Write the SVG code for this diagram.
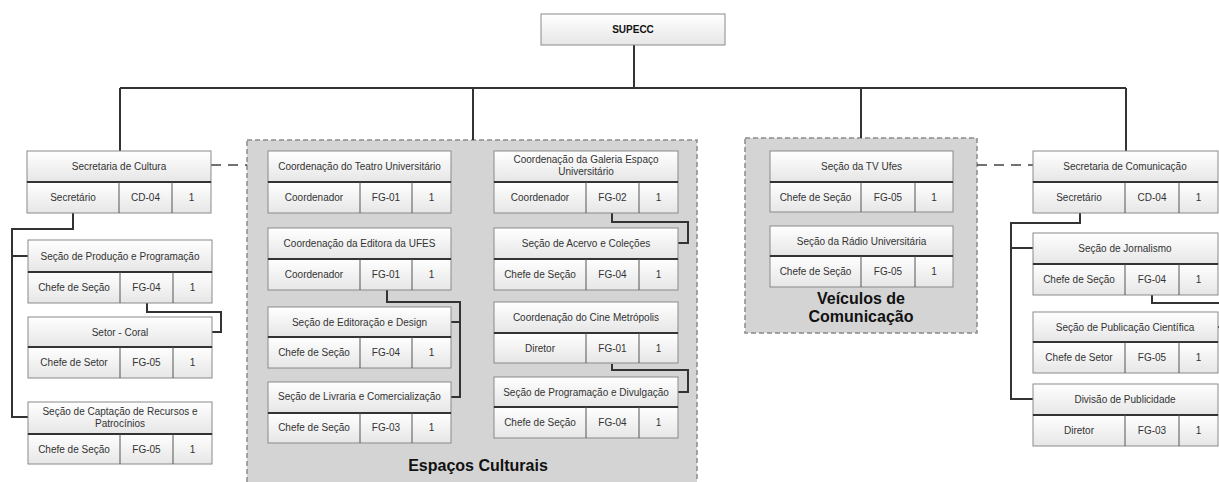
<svg xmlns="http://www.w3.org/2000/svg" width="1219" height="482" viewBox="0 0 1219 482">
<defs>
<linearGradient id="g" x1="0" y1="0" x2="0" y2="1">
<stop offset="0" stop-color="#ffffff"/>
<stop offset="1" stop-color="#e6e6e6"/>
</linearGradient>
</defs>
<style>
.h{fill:url(#g);stroke:#8a8a8a;stroke-width:1}
.c{fill:url(#g);stroke:#8a8a8a;stroke-width:1}
.dv{stroke:#333;stroke-width:2}
.cv{stroke:#555;stroke-width:1}
text{font-family:"Liberation Sans",Arial,sans-serif;font-size:10px;fill:#333;text-anchor:middle}
.b{font-weight:bold;fill:#111}
.grp{fill:#d4d4d4;stroke:#8a8a8a;stroke-width:1.5;stroke-dasharray:5 3}
.con{fill:none;stroke:#333;stroke-width:2}
.dash{fill:none;stroke:#444;stroke-width:1.5;stroke-dasharray:10 7}
.lbl{font-size:16px;font-weight:bold;fill:#111}
</style>
<rect class="grp" x="247" y="140" width="450" height="345"/>
<rect class="grp" x="745" y="138" width="232" height="195"/>
<text class="lbl" x="478" y="471">Espaços Culturais</text>
<text class="lbl" x="861" y="304">Veículos de</text>
<text class="lbl" x="861" y="322">Comunicação</text>
<g id="connectors">
<path class="con" d="M634 45V88M120 88H1126M120 88V151M473 88V140M861 88V138M1126 88V151"/>
<path class="dash" d="M211 165H247M977 165H1033"/>
<path class="con" d="M73 213V229H12V417H28M12 256H28"/>
<path class="con" d="M147 303V312H221V332H212"/>
<path class="con" d="M387 290V302H460V397H451M460 322H451"/>
<path class="con" d="M612 213V222H688V243H678"/>
<path class="con" d="M612 364V370H688V392H678"/>
<path class="con" d="M1080 213V223H1011V399H1033M1011 248H1033"/>
<path class="con" d="M1152 295V303H1219M1217 327H1219"/>
</g>
<g id="supecc">
<rect class="h" x="541" y="14" width="184" height="31"/>
<text class="b" x="633" y="33">SUPECC</text>
</g>
<g id="sec-cultura" transform="translate(27,151)">
<rect class="h" x="0" y="0" width="184" height="31"/><rect class="c" x="0" y="31" width="184" height="31"/>
<line class="dv" x1="0" y1="31" x2="184" y2="31"/><line class="cv" x1="92" y1="31" x2="92" y2="62"/><line class="cv" x1="145" y1="31" x2="145" y2="62"/>
<text x="92" y="19">Secretaria de Cultura</text><text x="46" y="50">Secretário</text><text x="118.5" y="50">CD-04</text><text x="164.5" y="50">1</text>
</g>
<g id="sec-producao" transform="translate(28,240)">
<rect class="h" x="0" y="0" width="184" height="32"/><rect class="c" x="0" y="32" width="184" height="31"/>
<line class="dv" x1="0" y1="32" x2="184" y2="32"/><line class="cv" x1="92" y1="32" x2="92" y2="63"/><line class="cv" x1="145" y1="32" x2="145" y2="63"/>
<text x="92" y="20">Seção de Produção e Programação</text><text x="46" y="51">Chefe de Seção</text><text x="118.5" y="51">FG-04</text><text x="164.5" y="51">1</text>
</g>
<g id="setor-coral" transform="translate(28,317)">
<rect class="h" x="0" y="0" width="184" height="30"/><rect class="c" x="0" y="30" width="184" height="31"/>
<line class="dv" x1="0" y1="30" x2="184" y2="30"/><line class="cv" x1="92" y1="30" x2="92" y2="61"/><line class="cv" x1="145" y1="30" x2="145" y2="61"/>
<text x="92" y="19">Setor - Coral</text><text x="46" y="49">Chefe de Setor</text><text x="118.5" y="49">FG-05</text><text x="164.5" y="49">1</text>
</g>
<g id="sec-captacao" transform="translate(28,402)">
<rect class="h" x="0" y="0" width="184" height="32"/><rect class="c" x="0" y="32" width="184" height="30"/>
<line class="dv" x1="0" y1="32" x2="184" y2="32"/><line class="cv" x1="92" y1="32" x2="92" y2="62"/><line class="cv" x1="145" y1="32" x2="145" y2="62"/>
<text x="92" y="13">Seção de Captação de Recursos e</text><text x="92" y="25">Patrocínios</text><text x="46" y="51">Chefe de Seção</text><text x="118.5" y="51">FG-05</text><text x="164.5" y="51">1</text>
</g>
<g id="coord-teatro" transform="translate(268,151)">
<rect class="h" x="0" y="0" width="183" height="31"/><rect class="c" x="0" y="31" width="183" height="31"/>
<line class="dv" x1="0" y1="31" x2="183" y2="31"/><line class="cv" x1="92" y1="31" x2="92" y2="62"/><line class="cv" x1="144" y1="31" x2="144" y2="62"/>
<text x="91.5" y="19">Coordenação do Teatro Universitário</text><text x="46" y="50">Coordenador</text><text x="118" y="50">FG-01</text><text x="163.5" y="50">1</text>
</g>
<g id="coord-editora" transform="translate(268,228)">
<rect class="h" x="0" y="0" width="183" height="31"/><rect class="c" x="0" y="31" width="183" height="31"/>
<line class="dv" x1="0" y1="31" x2="183" y2="31"/><line class="cv" x1="92" y1="31" x2="92" y2="62"/><line class="cv" x1="144" y1="31" x2="144" y2="62"/>
<text x="91.5" y="19">Coordenação da Editora da UFES</text><text x="46" y="50">Coordenador</text><text x="118" y="50">FG-01</text><text x="163.5" y="50">1</text>
</g>
<g id="sec-editoracao" transform="translate(268,307)">
<rect class="h" x="0" y="0" width="183" height="30"/><rect class="c" x="0" y="30" width="183" height="31"/>
<line class="dv" x1="0" y1="30" x2="183" y2="30"/><line class="cv" x1="92" y1="30" x2="92" y2="61"/><line class="cv" x1="144" y1="30" x2="144" y2="61"/>
<text x="91.5" y="19">Seção de Editoração e Design</text><text x="46" y="49">Chefe de Seção</text><text x="118" y="49">FG-04</text><text x="163.5" y="49">1</text>
</g>
<g id="sec-livraria" transform="translate(268,382)">
<rect class="h" x="0" y="0" width="183" height="31"/><rect class="c" x="0" y="31" width="183" height="30"/>
<line class="dv" x1="0" y1="31" x2="183" y2="31"/><line class="cv" x1="92" y1="31" x2="92" y2="61"/><line class="cv" x1="144" y1="31" x2="144" y2="61"/>
<text x="91.5" y="18">Seção de Livraria e Comercialização</text><text x="46" y="49">Chefe de Seção</text><text x="118" y="49">FG-03</text><text x="163.5" y="49">1</text>
</g>
<g id="coord-galeria" transform="translate(494,151)">
<rect class="h" x="0" y="0" width="184" height="31"/><rect class="c" x="0" y="31" width="184" height="31"/>
<line class="dv" x1="0" y1="31" x2="184" y2="31"/><line class="cv" x1="92" y1="31" x2="92" y2="62"/><line class="cv" x1="145" y1="31" x2="145" y2="62"/>
<text x="92" y="12">Coordenação da Galeria Espaço</text><text x="92" y="24">Universitário</text><text x="46" y="50">Coordenador</text><text x="118.5" y="50">FG-02</text><text x="164.5" y="50">1</text>
</g>
<g id="sec-acervo" transform="translate(494,228)">
<rect class="h" x="0" y="0" width="184" height="31"/><rect class="c" x="0" y="31" width="184" height="31"/>
<line class="dv" x1="0" y1="31" x2="184" y2="31"/><line class="cv" x1="92" y1="31" x2="92" y2="62"/><line class="cv" x1="145" y1="31" x2="145" y2="62"/>
<text x="92" y="19">Seção de Acervo e Coleções</text><text x="46" y="50">Chefe de Seção</text><text x="118.5" y="50">FG-04</text><text x="164.5" y="50">1</text>
</g>
<g id="coord-cine" transform="translate(494,302)">
<rect class="h" x="0" y="0" width="184" height="31"/><rect class="c" x="0" y="31" width="184" height="30"/>
<line class="dv" x1="0" y1="31" x2="184" y2="31"/><line class="cv" x1="92" y1="31" x2="92" y2="61"/><line class="cv" x1="145" y1="31" x2="145" y2="61"/>
<text x="92" y="19">Coordenação do Cine Metrópolis</text><text x="46" y="50">Diretor</text><text x="118.5" y="50">FG-01</text><text x="164.5" y="50">1</text>
</g>
<g id="sec-programacao" transform="translate(494,377)">
<rect class="h" x="0" y="0" width="184" height="30"/><rect class="c" x="0" y="30" width="184" height="31"/>
<line class="dv" x1="0" y1="30" x2="184" y2="30"/><line class="cv" x1="92" y1="30" x2="92" y2="61"/><line class="cv" x1="145" y1="30" x2="145" y2="61"/>
<text x="92" y="19">Seção de Programação e Divulgação</text><text x="46" y="49">Chefe de Seção</text><text x="118.5" y="49">FG-04</text><text x="164.5" y="49">1</text>
</g>
<g id="sec-tv" transform="translate(770,151)">
<rect class="h" x="0" y="0" width="183" height="31"/><rect class="c" x="0" y="31" width="183" height="30"/>
<line class="dv" x1="0" y1="31" x2="183" y2="31"/><line class="cv" x1="91" y1="31" x2="91" y2="61"/><line class="cv" x1="145" y1="31" x2="145" y2="61"/>
<text x="91.5" y="19">Seção da TV Ufes</text><text x="45.5" y="50">Chefe de Seção</text><text x="118" y="50">FG-05</text><text x="164" y="50">1</text>
</g>
<g id="sec-radio" transform="translate(770,226)">
<rect class="h" x="0" y="0" width="183" height="30"/><rect class="c" x="0" y="30" width="183" height="31"/>
<line class="dv" x1="0" y1="30" x2="183" y2="30"/><line class="cv" x1="91" y1="30" x2="91" y2="61"/><line class="cv" x1="145" y1="30" x2="145" y2="61"/>
<text x="91.5" y="19">Seção da Rádio Universitária</text><text x="45.5" y="49">Chefe de Seção</text><text x="118" y="49">FG-05</text><text x="164" y="49">1</text>
</g>
<g id="sec-comunicacao" transform="translate(1033,151)">
<rect class="h" x="0" y="0" width="185" height="31"/><rect class="c" x="0" y="31" width="185" height="31"/>
<line class="dv" x1="0" y1="31" x2="185" y2="31"/><line class="cv" x1="92" y1="31" x2="92" y2="62"/><line class="cv" x1="146" y1="31" x2="146" y2="62"/>
<text x="92" y="19">Secretaria de Comunicação</text><text x="46" y="50">Secretário</text><text x="119" y="50">CD-04</text><text x="165.5" y="50">1</text>
</g>
<g id="sec-jornalismo" transform="translate(1033,233)">
<rect class="h" x="0" y="0" width="185" height="31"/><rect class="c" x="0" y="31" width="185" height="31"/>
<line class="dv" x1="0" y1="31" x2="185" y2="31"/><line class="cv" x1="92" y1="31" x2="92" y2="62"/><line class="cv" x1="146" y1="31" x2="146" y2="62"/>
<text x="92" y="19">Seção de Jornalismo</text><text x="46" y="50">Chefe de Seção</text><text x="119" y="50">FG-04</text><text x="165.5" y="50">1</text>
</g>
<g id="sec-publicacao" transform="translate(1033,312)">
<rect class="h" x="0" y="0" width="185" height="30"/><rect class="c" x="0" y="30" width="185" height="31"/>
<line class="dv" x1="0" y1="30" x2="185" y2="30"/><line class="cv" x1="92" y1="30" x2="92" y2="61"/><line class="cv" x1="146" y1="30" x2="146" y2="61"/>
<text x="92" y="19">Seção de Publicação Científica</text><text x="46" y="49">Chefe de Setor</text><text x="119" y="49">FG-05</text><text x="165.5" y="49">1</text>
</g>
<g id="div-publicidade" transform="translate(1033,384)">
<rect class="h" x="0" y="0" width="185" height="31"/><rect class="c" x="0" y="31" width="185" height="31"/>
<line class="dv" x1="0" y1="31" x2="185" y2="31"/><line class="cv" x1="92" y1="31" x2="92" y2="62"/><line class="cv" x1="146" y1="31" x2="146" y2="62"/>
<text x="92" y="19">Divisão de Publicidade</text><text x="46" y="50">Diretor</text><text x="119" y="50">FG-03</text><text x="165.5" y="50">1</text>
</g>
</svg>
